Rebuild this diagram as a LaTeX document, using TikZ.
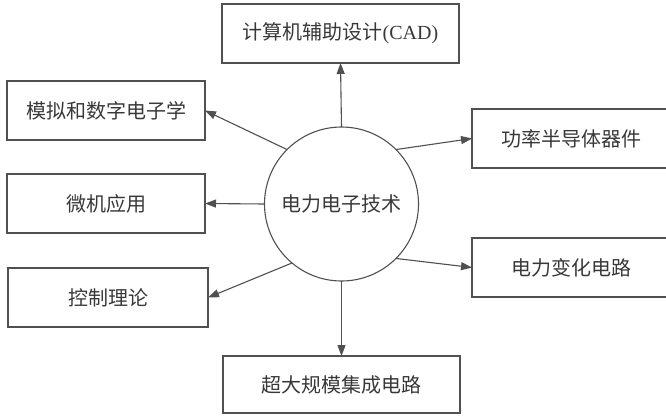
\documentclass[tikz,border=0pt]{standalone}
\usepackage{fontspec}
\setmainfont{Liberation Serif}
\newfontfamily\cjk{Noto Sans CJK SC}
\usetikzlibrary{arrows.meta}
\definecolor{linec}{HTML}{505050}
\definecolor{textc}{HTML}{383838}
\tikzset{
  box/.style={draw=linec, line width=1.1pt, rectangle, inner sep=0pt, outer sep=0pt,
    minimum height=59pt, text=textc, font=\fontsize{20pt}{24pt}\selectfont\cjk},
  hub/.style={draw=linec, line width=1.1pt, circle, inner sep=0pt, outer sep=0pt,
    minimum size=154pt, text=textc, font=\fontsize{20pt}{24pt}\selectfont\cjk},
  arr/.style={draw=linec, line width=1.1pt, -{Triangle[length=11pt,width=8pt]}}
}
\begin{document}
\begin{tikzpicture}[x=1pt,y=-1pt]
\useasboundingbox (0,0) rectangle (666,415);
\node[hub] (c) at (341.5,204) {电力电子技术};
\node[box, minimum width=237pt] (top) at (340.5,33.5) {计算机辅助设计\rmfamily(CAD)};
\node[box, minimum width=198pt] (l1) at (106,110.5) {模拟和数字电子学};
\node[box, minimum width=198pt] (l2) at (106,203.5) {微机应用};
\node[box, minimum width=200pt] (l3) at (108,297.5) {控制理论};
\node[box, minimum width=198pt] (r1) at (571,138.5) {功率半导体器件};
\node[box, minimum width=198pt] (r2) at (571,267.5) {电力变化电路};
\node[box, minimum width=237pt, minimum height=57pt] (bot) at (341.5,384.5) {超大规模集成电路};
\draw[arr] (c.north) -- (top.south);
\draw[arr] (c.south) -- (bot.north);
\draw[arr] (c.west) -- (l2.east);
\draw[arr] (c.135) -- (l1.east);
\draw[arr] (c.230) -- (l3.east);
\draw[arr] (c.45) -- (r1.west);
\draw[arr] (c.-45) -- (r2.west);
\end{tikzpicture}
\end{document}
